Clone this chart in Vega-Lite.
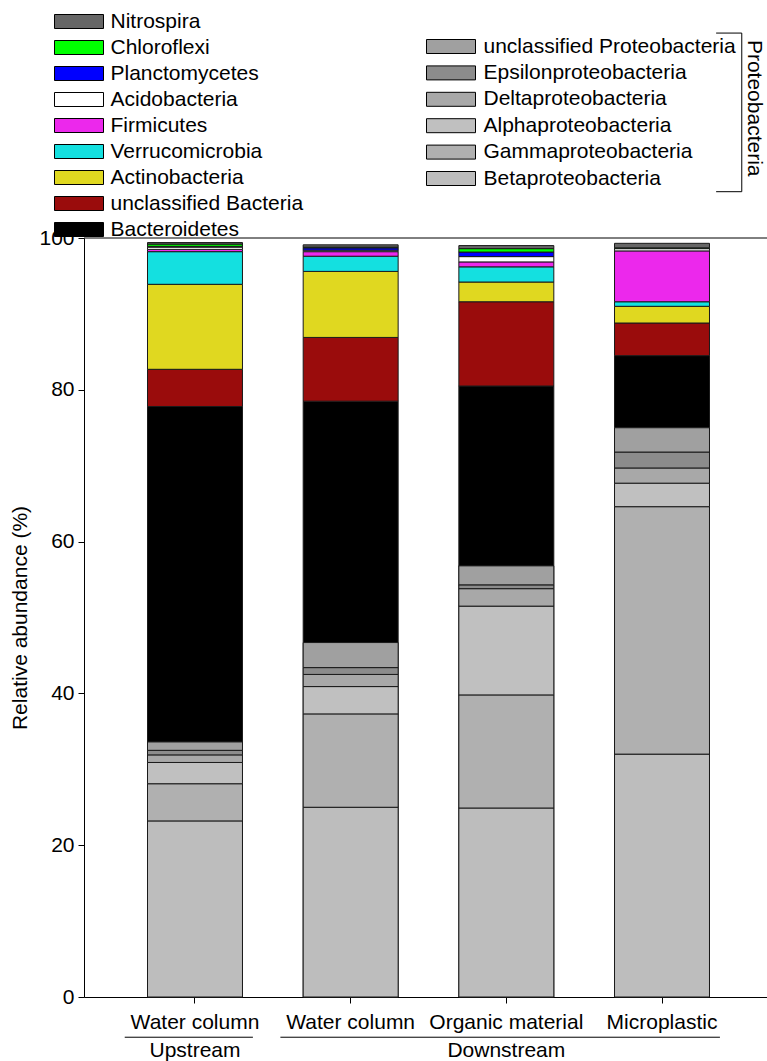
{
  "$schema": "https://vega.github.io/schema/vega-lite/v6.json",
  "width": 689,
  "height": 759,
  "autosize": {"type": "none"},
  "padding": {"left": 84, "top": 238, "right": 0, "bottom": 64},
  "background": "white",
  "config": {
    "font": "Liberation Sans",
    "view": {"stroke": null},
    "axis": {"labelFont": "Liberation Sans", "titleFont": "Liberation Sans", "labelColor": "black", "titleColor": "black", "domainColor": "black", "tickColor": "black", "grid": false, "labelFontSize": 21, "titleFontSize": 21, "titleFontWeight": "normal", "tickSize": 6},
    "legend": {"labelFont": "Liberation Sans", "titleFont": "Liberation Sans"}
  },
  "datasets": {
    "abundance": [
      {"sample": "Upstream|Water column", "taxon": "Betaproteobacteria", "value": 23.2},
      {"sample": "Upstream|Water column", "taxon": "Gammaproteobacteria", "value": 4.9},
      {"sample": "Upstream|Water column", "taxon": "Alphaproteobacteria", "value": 2.8},
      {"sample": "Upstream|Water column", "taxon": "Deltaproteobacteria", "value": 1.0},
      {"sample": "Upstream|Water column", "taxon": "Epsilonproteobacteria", "value": 0.6},
      {"sample": "Upstream|Water column", "taxon": "unclassified Proteobacteria", "value": 1.1},
      {"sample": "Upstream|Water column", "taxon": "Bacteroidetes", "value": 44.2},
      {"sample": "Upstream|Water column", "taxon": "unclassified Bacteria", "value": 4.9},
      {"sample": "Upstream|Water column", "taxon": "Actinobacteria", "value": 11.2},
      {"sample": "Upstream|Water column", "taxon": "Verrucomicrobia", "value": 4.3},
      {"sample": "Upstream|Water column", "taxon": "Firmicutes", "value": 0.3},
      {"sample": "Upstream|Water column", "taxon": "Acidobacteria", "value": 0.3},
      {"sample": "Upstream|Water column", "taxon": "Planctomycetes", "value": 0.1},
      {"sample": "Upstream|Water column", "taxon": "Chloroflexi", "value": 0.3},
      {"sample": "Upstream|Water column", "taxon": "Nitrospira", "value": 0.2},
      {"sample": "Downstream|Water column", "taxon": "Betaproteobacteria", "value": 25.0},
      {"sample": "Downstream|Water column", "taxon": "Gammaproteobacteria", "value": 12.3},
      {"sample": "Downstream|Water column", "taxon": "Alphaproteobacteria", "value": 3.6},
      {"sample": "Downstream|Water column", "taxon": "Deltaproteobacteria", "value": 1.6},
      {"sample": "Downstream|Water column", "taxon": "Epsilonproteobacteria", "value": 0.9},
      {"sample": "Downstream|Water column", "taxon": "unclassified Proteobacteria", "value": 3.3},
      {"sample": "Downstream|Water column", "taxon": "Bacteroidetes", "value": 31.8},
      {"sample": "Downstream|Water column", "taxon": "unclassified Bacteria", "value": 8.4},
      {"sample": "Downstream|Water column", "taxon": "Actinobacteria", "value": 8.7},
      {"sample": "Downstream|Water column", "taxon": "Verrucomicrobia", "value": 2.0},
      {"sample": "Downstream|Water column", "taxon": "Firmicutes", "value": 0.6},
      {"sample": "Downstream|Water column", "taxon": "Acidobacteria", "value": 0.2},
      {"sample": "Downstream|Water column", "taxon": "Planctomycetes", "value": 0.3},
      {"sample": "Downstream|Water column", "taxon": "Chloroflexi", "value": 0.1},
      {"sample": "Downstream|Water column", "taxon": "Nitrospira", "value": 0.3},
      {"sample": "Downstream|Organic material", "taxon": "Betaproteobacteria", "value": 24.9},
      {"sample": "Downstream|Organic material", "taxon": "Gammaproteobacteria", "value": 14.9},
      {"sample": "Downstream|Organic material", "taxon": "Alphaproteobacteria", "value": 11.7},
      {"sample": "Downstream|Organic material", "taxon": "Deltaproteobacteria", "value": 2.3},
      {"sample": "Downstream|Organic material", "taxon": "Epsilonproteobacteria", "value": 0.5},
      {"sample": "Downstream|Organic material", "taxon": "unclassified Proteobacteria", "value": 2.5},
      {"sample": "Downstream|Organic material", "taxon": "Bacteroidetes", "value": 23.7},
      {"sample": "Downstream|Organic material", "taxon": "unclassified Bacteria", "value": 11.1},
      {"sample": "Downstream|Organic material", "taxon": "Actinobacteria", "value": 2.6},
      {"sample": "Downstream|Organic material", "taxon": "Verrucomicrobia", "value": 2.0},
      {"sample": "Downstream|Organic material", "taxon": "Firmicutes", "value": 0.65},
      {"sample": "Downstream|Organic material", "taxon": "Acidobacteria", "value": 0.7},
      {"sample": "Downstream|Organic material", "taxon": "Planctomycetes", "value": 0.6},
      {"sample": "Downstream|Organic material", "taxon": "Chloroflexi", "value": 0.45},
      {"sample": "Downstream|Organic material", "taxon": "Nitrospira", "value": 0.4},
      {"sample": "Downstream|Microplastic", "taxon": "Betaproteobacteria", "value": 32.0},
      {"sample": "Downstream|Microplastic", "taxon": "Gammaproteobacteria", "value": 32.6},
      {"sample": "Downstream|Microplastic", "taxon": "Alphaproteobacteria", "value": 3.1},
      {"sample": "Downstream|Microplastic", "taxon": "Deltaproteobacteria", "value": 2.0},
      {"sample": "Downstream|Microplastic", "taxon": "Epsilonproteobacteria", "value": 2.1},
      {"sample": "Downstream|Microplastic", "taxon": "unclassified Proteobacteria", "value": 3.2},
      {"sample": "Downstream|Microplastic", "taxon": "Bacteroidetes", "value": 9.5},
      {"sample": "Downstream|Microplastic", "taxon": "unclassified Bacteria", "value": 4.3},
      {"sample": "Downstream|Microplastic", "taxon": "Actinobacteria", "value": 2.2},
      {"sample": "Downstream|Microplastic", "taxon": "Verrucomicrobia", "value": 0.6},
      {"sample": "Downstream|Microplastic", "taxon": "Firmicutes", "value": 6.7},
      {"sample": "Downstream|Microplastic", "taxon": "Acidobacteria", "value": 0.3},
      {"sample": "Downstream|Microplastic", "taxon": "Planctomycetes", "value": 0.05},
      {"sample": "Downstream|Microplastic", "taxon": "Chloroflexi", "value": 0.05},
      {"sample": "Downstream|Microplastic", "taxon": "Nitrospira", "value": 0.6}
    ],
    "groups": [
      {"group": "Upstream", "first": "Upstream|Water column", "last": "Upstream|Water column", "center": "Upstream|Water column"},
      {"group": "Downstream", "first": "Downstream|Water column", "last": "Downstream|Microplastic", "center": "Downstream|Organic material"}
    ],
    "bracket": [{"label": "Proteobacteria"}]
  },
  "layer": [
    {
      "data": {"name": "abundance"},
      "transform": [{"window": [{"op": "row_number", "as": "stackOrder"}], "groupby": ["sample"]}],
      "mark": {"type": "bar", "stroke": "#1a1a1a", "strokeWidth": 1},
      "encoding": {
        "x": {"field": "sample", "type": "nominal", "sort": null,
              "scale": {"domain": ["Upstream|Water column", "Downstream|Water column", "Downstream|Organic material", "Downstream|Microplastic"], "paddingInner": 0.39, "paddingOuter": 0.408},
              "axis": {"title": null, "labelExpr": "split(datum.value, '|')[1]", "labelAngle": 0, "labelPadding": 8, "labelLimit": 300}},
        "y": {"field": "value", "type": "quantitative", "stack": "zero",
              "scale": {"domain": [0, 100], "nice": false},
              "axis": {"title": "Relative abundance (%)", "values": [0, 20, 40, 60, 80, 100], "labelPadding": 4, "titlePadding": 8}},
        "order": {"field": "stackOrder", "type": "quantitative", "sort": "ascending"},
        "fill": {"field": "taxon", "type": "nominal",
                 "scale": {"domain": ["Betaproteobacteria", "Gammaproteobacteria", "Alphaproteobacteria", "Deltaproteobacteria", "Epsilonproteobacteria", "unclassified Proteobacteria", "Bacteroidetes", "unclassified Bacteria", "Actinobacteria", "Verrucomicrobia", "Firmicutes", "Acidobacteria", "Planctomycetes", "Chloroflexi", "Nitrospira"],
                           "range": ["#bdbdbd", "#b0b0b0", "#c0c0c0", "#a8a8a8", "#8c8c8c", "#a0a0a0", "#000000", "#9a0c0c", "#e0d820", "#14e0e0", "#ec28ec", "#ffffff", "#0000ff", "#00ff00", "#666666"]},
                 "legend": {"title": null, "orient": "none", "legendX": -15.5, "legendY": -227, "padding": 0,
                            "values": ["Nitrospira", "Chloroflexi", "Planctomycetes", "Acidobacteria", "Firmicutes", "Verrucomicrobia", "Actinobacteria", "unclassified Bacteria", "Bacteroidetes"],
                            "symbolType": "M-3.5,-1H3.5V1H-3.5Z", "symbolSize": 196, "symbolStrokeColor": "black", "symbolStrokeWidth": 1, "symbolOpacity": 1,
                            "labelFontSize": 21, "labelColor": "black", "labelOffset": 21, "labelLimit": 400, "rowPadding": 4}}
      }
    },
    {
      "data": {"name": "abundance"},
      "transform": [
        {"filter": {"field": "taxon", "oneOf": ["Betaproteobacteria", "Gammaproteobacteria", "Alphaproteobacteria", "Deltaproteobacteria", "Epsilonproteobacteria", "unclassified Proteobacteria"]}},
        {"window": [{"op": "row_number", "as": "stackOrder"}], "groupby": ["sample"]}
      ],
      "mark": {"type": "bar", "stroke": "#1a1a1a", "strokeWidth": 1},
      "encoding": {
        "x": {"field": "sample", "type": "nominal", "sort": null,
              "scale": {"domain": ["Upstream|Water column", "Downstream|Water column", "Downstream|Organic material", "Downstream|Microplastic"], "paddingInner": 0.39, "paddingOuter": 0.408}},
        "y": {"field": "value", "type": "quantitative", "stack": "zero", "scale": {"domain": [0, 100], "nice": false}},
        "order": {"field": "stackOrder", "type": "quantitative", "sort": "ascending"},
        "fill": {"field": "taxon", "type": "nominal",
                 "scale": {"domain": ["Betaproteobacteria", "Gammaproteobacteria", "Alphaproteobacteria", "Deltaproteobacteria", "Epsilonproteobacteria", "unclassified Proteobacteria"],
                           "range": ["#bdbdbd", "#b0b0b0", "#c0c0c0", "#a8a8a8", "#8c8c8c", "#a0a0a0"]},
                 "legend": {"title": null,
                            "orient": "none", "legendX": 356.5, "legendY": -202, "padding": 0,
                            "values": ["unclassified Proteobacteria", "Epsilonproteobacteria", "Deltaproteobacteria", "Alphaproteobacteria", "Gammaproteobacteria", "Betaproteobacteria"],
                            "symbolType": "M-3.5,-1H3.5V1H-3.5Z", "symbolSize": 196, "symbolStrokeColor": "black", "symbolStrokeWidth": 1, "symbolOpacity": 1,
                            "labelFontSize": 21, "labelColor": "black", "labelOffset": 22, "labelLimit": 400, "rowPadding": 4.4}}
      }
    },
    {
      "data": {"name": "bracket"},
      "mark": {"type": "rule", "color": "black", "strokeWidth": 1},
      "encoding": {
        "y": {"datum": 100, "type": "quantitative", "scale": {"domain": [0, 100], "nice": false}}
      }
    },
    {
      "data": {"name": "groups"},
      "mark": {"type": "rule", "color": "black", "strokeWidth": 1},
      "encoding": {
        "x": {"field": "first", "type": "nominal", "bandPosition": -0.24, "scale": {"domain": ["Upstream|Water column", "Downstream|Water column", "Downstream|Organic material", "Downstream|Microplastic"], "paddingInner": 0.39, "paddingOuter": 0.408}},
        "x2": {"field": "last", "bandPosition": 1.11},
        "y": {"datum": -5.3, "type": "quantitative", "scale": {"domain": [0, 100], "nice": false}}
      }
    },
    {
      "data": {"name": "groups"},
      "mark": {"type": "text", "fontSize": 21, "color": "black", "baseline": "alphabetic", "align": "center"},
      "encoding": {
        "x": {"field": "center", "type": "nominal", "bandPosition": 0.5, "scale": {"domain": ["Upstream|Water column", "Downstream|Water column", "Downstream|Organic material", "Downstream|Microplastic"], "paddingInner": 0.39, "paddingOuter": 0.408}},
        "y": {"datum": -7.84, "type": "quantitative", "scale": {"domain": [0, 100], "nice": false}},
        "text": {"field": "group"}
      }
    },
    {
      "data": {"name": "bracket"},
      "mark": {"type": "text", "fontSize": 21, "color": "black", "baseline": "alphabetic", "align": "center", "angle": 90},
      "encoding": {
        "x": {"datum": "Downstream|Microplastic", "type": "nominal", "bandPosition": 1.41, "scale": {"domain": ["Upstream|Water column", "Downstream|Water column", "Downstream|Organic material", "Downstream|Microplastic"], "paddingInner": 0.39, "paddingOuter": 0.408}},
        "y": {"datum": 117.1, "type": "quantitative", "scale": {"domain": [0, 100], "nice": false}},
        "text": {"field": "label"}
      }
    },
    {
      "data": {"name": "bracket"},
      "mark": {"type": "rule", "color": "black", "strokeWidth": 1},
      "encoding": {
        "x": {"datum": "Downstream|Microplastic", "type": "nominal", "bandPosition": 1.34, "scale": {"domain": ["Upstream|Water column", "Downstream|Water column", "Downstream|Organic material", "Downstream|Microplastic"], "paddingInner": 0.39, "paddingOuter": 0.408}},
        "y": {"datum": 127, "type": "quantitative", "scale": {"domain": [0, 100], "nice": false}},
        "y2": {"datum": 106.1}
      }
    },
    {
      "data": {"name": "bracket"},
      "mark": {"type": "rule", "color": "black", "strokeWidth": 1},
      "encoding": {
        "x": {"datum": "Downstream|Microplastic", "type": "nominal", "bandPosition": 1.07, "scale": {"domain": ["Upstream|Water column", "Downstream|Water column", "Downstream|Organic material", "Downstream|Microplastic"], "paddingInner": 0.39, "paddingOuter": 0.408}},
        "x2": {"datum": "Downstream|Microplastic", "bandPosition": 1.34},
        "y": {"datum": 127, "type": "quantitative", "scale": {"domain": [0, 100], "nice": false}}
      }
    },
    {
      "data": {"name": "bracket"},
      "mark": {"type": "rule", "color": "black", "strokeWidth": 1},
      "encoding": {
        "x": {"datum": "Downstream|Microplastic", "type": "nominal", "bandPosition": 1.07, "scale": {"domain": ["Upstream|Water column", "Downstream|Water column", "Downstream|Organic material", "Downstream|Microplastic"], "paddingInner": 0.39, "paddingOuter": 0.408}},
        "x2": {"datum": "Downstream|Microplastic", "bandPosition": 1.34},
        "y": {"datum": 106.1, "type": "quantitative", "scale": {"domain": [0, 100], "nice": false}}
      }
    }
  ],
  "resolve": {"scale": {"fill": "independent"}, "legend": {"fill": "independent"}}
}
